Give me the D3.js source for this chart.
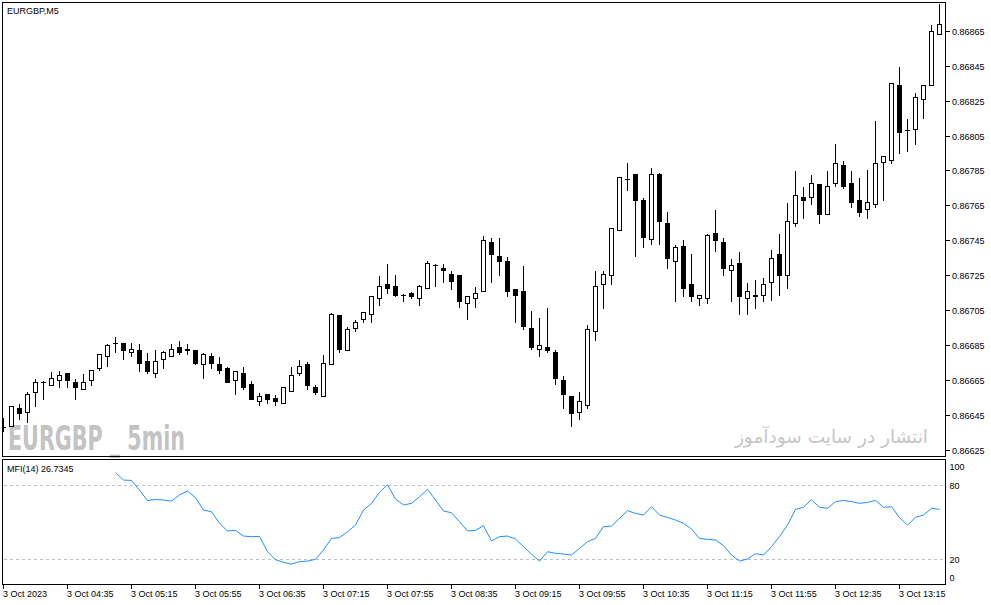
<!DOCTYPE html>
<html><head><meta charset="utf-8">
<script src="https://cdn.jsdelivr.net/npm/d3@7"></script>
<style>html,body{margin:0;padding:0;background:#fff;overflow:hidden}</style>
</head><body>
<svg id="c" width="991" height="605"></svg>
<script>
const symbolTitle = "EURGBP,M5";
const watermarkText = "EURGBP _ 5min";
const persianText = "انتشار در سایت سودآموز";
const mfiLabel = "MFI(14) 26.7345";

const openP = [0.86638,0.86639,0.86649,0.86647,0.86658,0.86664,0.86662,0.86665,0.86669,0.86664,
0.86660,0.86665,0.86672,0.86679,0.86686,0.86686,0.86681,0.86682,0.86676,0.86669,
0.86677,0.86679,0.86684,0.86682,0.86682,0.86674,0.86679,0.86674,0.86672,0.86665,
0.86669,0.86663,0.86653,0.86657,0.86655,0.86652,0.86659,0.86669,0.86674,0.86661,
0.86656,0.86674,0.86702,0.86682,0.86695,0.86700,0.86703,0.86712,0.86720,0.86719,
0.86714,0.86715,0.86712,0.86718,0.86731,0.86729,0.86726,0.86725,0.86709,0.86712,
0.86716,0.86744,0.86736,0.86733,0.86717,0.86716,0.86695,0.86683,0.86684,0.86681,
0.86665,0.86656,0.86647,0.86651,0.86693,0.86720,0.86725,0.86751,0.86780,0.86783,
0.86768,0.86746,0.86783,0.86755,0.86733,0.86742,0.86720,0.86712,0.86712,0.86749,
0.86744,0.86728,0.86732,0.86712,0.86714,0.86714,0.86721,0.86737,0.86725,0.86755,
0.86770,0.86770,0.86777,0.86760,0.86778,0.86788,0.86778,0.86768,0.86763,0.86766,
0.86790,0.86791,0.86834,0.86808,0.86809,0.86826,0.86834,0.86863];
const highP = [0.86644,0.86651,0.86652,0.86659,0.86666,0.86665,0.86670,0.86671,0.86669,0.86666,
0.86669,0.86671,0.86680,0.86686,0.86690,0.86686,0.86687,0.86686,0.86681,0.86683,
0.86682,0.86686,0.86688,0.86686,0.86682,0.86681,0.86681,0.86679,0.86673,0.86670,
0.86673,0.86665,0.86658,0.86657,0.86657,0.86661,0.86673,0.86677,0.86676,0.86663,
0.86680,0.86704,0.86702,0.86696,0.86700,0.86704,0.86713,0.86725,0.86732,0.86726,
0.86715,0.86716,0.86720,0.86734,0.86732,0.86732,0.86728,0.86726,0.86713,0.86719,
0.86748,0.86747,0.86747,0.86736,0.86718,0.86731,0.86705,0.86701,0.86707,0.86683,
0.86668,0.86656,0.86659,0.86697,0.86728,0.86728,0.86752,0.86782,0.86790,0.86783,
0.86770,0.86787,0.86784,0.86762,0.86743,0.86746,0.86738,0.86714,0.86749,0.86763,
0.86747,0.86735,0.86739,0.86721,0.86723,0.86724,0.86740,0.86749,0.86767,0.86785,
0.86776,0.86783,0.86777,0.86785,0.86801,0.86791,0.86785,0.86781,0.86786,0.86814,
0.86794,0.86835,0.86845,0.86815,0.86830,0.86834,0.86869,0.86881];
const lowP = [0.86636,0.86639,0.86643,0.86641,0.86650,0.86654,0.86662,0.86661,0.86661,0.86654,
0.86660,0.86662,0.86671,0.86673,0.86681,0.86677,0.86679,0.86670,0.86669,0.86667,
0.86672,0.86679,0.86680,0.86680,0.86674,0.86666,0.86672,0.86669,0.86664,0.86657,
0.86660,0.86654,0.86651,0.86652,0.86651,0.86652,0.86659,0.86668,0.86660,0.86657,
0.86656,0.86674,0.86681,0.86682,0.86693,0.86698,0.86698,0.86708,0.86715,0.86713,
0.86710,0.86712,0.86708,0.86718,0.86719,0.86721,0.86717,0.86707,0.86700,0.86707,
0.86716,0.86721,0.86725,0.86713,0.86698,0.86694,0.86683,0.86679,0.86681,0.86663,
0.86649,0.86639,0.86643,0.86649,0.86688,0.86706,0.86720,0.86751,0.86774,0.86736,
0.86741,0.86743,0.86743,0.86729,0.86710,0.86713,0.86710,0.86708,0.86709,0.86739,
0.86725,0.86710,0.86703,0.86703,0.86706,0.86710,0.86711,0.86714,0.86718,0.86753,
0.86758,0.86766,0.86755,0.86760,0.86776,0.86775,0.86764,0.86759,0.86758,0.86764,
0.86768,0.86789,0.86795,0.86796,0.86800,0.86815,0.86834,0.86863];
const closeP = [0.86638,0.86650,0.86646,0.86657,0.86664,0.86664,0.86666,0.86668,0.86665,0.86661,
0.86664,0.86671,0.86680,0.86685,0.86686,0.86682,0.86683,0.86675,0.86670,0.86676,
0.86681,0.86683,0.86681,0.86683,0.86675,0.86680,0.86675,0.86671,0.86664,0.86670,
0.86661,0.86654,0.86656,0.86654,0.86653,0.86661,0.86668,0.86673,0.86662,0.86658,
0.86675,0.86703,0.86683,0.86694,0.86698,0.86704,0.86713,0.86719,0.86718,0.86714,
0.86714,0.86713,0.86719,0.86732,0.86731,0.86728,0.86722,0.86710,0.86713,0.86715,
0.86745,0.86737,0.86733,0.86716,0.86714,0.86696,0.86684,0.86685,0.86682,0.86666,
0.86657,0.86646,0.86653,0.86694,0.86719,0.86726,0.86752,0.86781,0.86780,0.86768,
0.86747,0.86783,0.86756,0.86735,0.86741,0.86718,0.86713,0.86714,0.86748,0.86745,
0.86729,0.86731,0.86713,0.86716,0.86713,0.86720,0.86735,0.86725,0.86756,0.86771,
0.86768,0.86778,0.86760,0.86776,0.86789,0.86776,0.86767,0.86761,0.86767,0.86789,
0.86793,0.86835,0.86807,0.86808,0.86827,0.86834,0.86865,0.86869];

const mfiValues = [null,null,null,null,null,null,null,null,null,null,null,null,null,null,
90.5,84.3,84.0,76.2,67.6,68.6,68.1,67.3,72.2,75.4,
70.0,60.0,58.6,49.2,43.0,43.5,38.9,38.4,38.6,26.2,
19.7,17.6,16.2,18.1,18.6,20.0,27.6,37.0,37.6,42.4,
47.8,60.0,65.4,74.3,80.5,68.9,64.1,65.4,70.8,76.8,
68.1,59.2,57.8,50.5,43.0,43.5,47.3,34.9,38.4,38.9,
36.5,30.3,24.1,18.6,26.2,24.9,24.3,23.5,28.9,34.3,
37.0,46.5,47.0,53.2,59.5,57.3,55.9,62.7,55.9,54.0,
51.9,49.2,44.6,37.0,36.2,35.7,31.1,23.5,18.6,20.3,
24.6,23.5,30.3,38.4,47.8,60.5,62.2,68.6,62.2,61.4,
66.8,67.8,66.8,65.4,66.2,67.8,62.2,62.7,53.8,47.8,
54.0,55.9,61.4,60.5];

const priceTicks = [0.86625,0.86645,0.86665,0.86685,0.86705,0.86725,0.86745,0.86765,0.86785,0.86805,0.86825,0.86845,0.86865];
const mfiTicks = [100,80,20,0];
const mfiLevels = [80,20];
const timeLabels = ["3 Oct 2023","3 Oct 04:35","3 Oct 05:15","3 Oct 05:55","3 Oct 06:35","3 Oct 07:15","3 Oct 07:55","3 Oct 08:35","3 Oct 09:15","3 Oct 09:55","3 Oct 10:35","3 Oct 11:15","3 Oct 11:55","3 Oct 12:35","3 Oct 13:15"];
const timeLabelBars = [0,8,16,24,32,40,48,56,64,72,80,88,96,104,112];

const svg = d3.select("#c");
const font = "'Liberation Sans', Arial, sans-serif";
const L = 2.5, R = 945.5, T = 2.5, B = 456.5, IT = 459.5, IB = 584.5;
const n = openP.length;
const x = d3.scaleLinear().domain([0, n - 1]).range([3.5, 939.5]);
const y = d3.scaleLinear().domain([0.86625, 0.86865]).range([450, 30.7]);
const ym = d3.scaleLinear().domain([0, 100]).range([584, 460.7]);
const py = v => Math.round(y(v)) + 0.5;

const defs = svg.append("defs");
defs.append("clipPath").attr("id","cm").append("rect").attr("x",L+0.5).attr("y",T+0.5).attr("width",R-L-1).attr("height",B-T-1);
defs.append("clipPath").attr("id","ci").append("rect").attr("x",L+0.5).attr("y",IT+0.5).attr("width",R-L-1).attr("height",IB-IT-1);

// watermark texts
svg.append("text").attr("x",8).attr("y",449.5).text(watermarkText)
  .attr("font-family","'DejaVu Sans Condensed','DejaVu Sans',sans-serif").attr("font-weight","bold")
  .attr("font-size",33).attr("fill","#c3c3c3").attr("textLength",177).attr("lengthAdjust","spacingAndGlyphs");
svg.append("text").attr("x",928).attr("y",443).attr("text-anchor","end").text(persianText)
  .attr("font-family","'DejaVu Sans',sans-serif").attr("font-size",18.5).attr("fill","#c6c6c6");

// candles
const bars = d3.range(n).map(i => ({i, o: openP[i], h: highP[i], l: lowP[i], c: closeP[i]}));
const gC = svg.append("g").attr("clip-path","url(#cm)").attr("shape-rendering","crispEdges");
const cg = gC.selectAll("g.c").data(bars).join("g").attr("class","c");
cg.append("line").attr("x1",d=>x(d.i)).attr("x2",d=>x(d.i)).attr("y1",d=>py(d.h)).attr("y2",d=>py(d.l)).attr("stroke","#000");
cg.each(function(d){
  const g = d3.select(this);
  const top = py(Math.max(d.o,d.c)), bot = py(Math.min(d.o,d.c));
  if (bot - top < 1) {
    g.append("line").attr("x1",x(d.i)-2.5).attr("x2",x(d.i)+2.5).attr("y1",top).attr("y2",top).attr("stroke","#000");
  } else {
    g.append("rect").attr("x",x(d.i)-2).attr("y",top).attr("width",4).attr("height",bot-top)
      .attr("fill", d.c >= d.o ? "#fff" : "#000").attr("stroke","#000");
  }
});

// frames
svg.append("rect").attr("x",L).attr("y",T).attr("width",R-L).attr("height",B-T).attr("fill","none").attr("stroke","#000").attr("shape-rendering","crispEdges");
svg.append("rect").attr("x",L).attr("y",IT).attr("width",R-L).attr("height",IB-IT).attr("fill","none").attr("stroke","#000").attr("shape-rendering","crispEdges");

// price axis
const pa = svg.append("g");
pa.selectAll("line").data(priceTicks).join("line").attr("x1",R).attr("x2",R+4).attr("y1",d=>py(d)).attr("y2",d=>py(d)).attr("stroke","#000").attr("shape-rendering","crispEdges");
pa.selectAll("text").data(priceTicks).join("text").attr("x",R+6.5).attr("y",d=>py(d)+3.3).text(d=>d.toFixed(5))
  .attr("font-family",font).attr("font-size",9).attr("fill","#000");

// title
svg.append("text").attr("x",7).attr("y",14).text(symbolTitle).attr("font-family",font).attr("font-size",9).attr("fill","#000");

// MFI panel
const gI = svg.append("g").attr("clip-path","url(#ci)");
gI.selectAll("line.lv").data(mfiLevels).join("line").attr("class","lv").attr("x1",L+1.5).attr("x2",R-1)
  .attr("y1",d=>Math.round(ym(d))+0.5).attr("y2",d=>Math.round(ym(d))+0.5).attr("stroke","#c0c0c0").attr("stroke-dasharray","3,3").attr("shape-rendering","crispEdges");
const line = d3.line().defined(d=>d.v!=null).x(d=>x(d.i)).y(d=>ym(d.v));
gI.append("path").datum(mfiValues.map((v,i)=>({i,v}))).attr("d",line).attr("fill","none").attr("stroke","#1e90ff").attr("stroke-width",1);
svg.append("text").attr("x",7).attr("y",472).text(mfiLabel).attr("font-family",font).attr("font-size",9).attr("fill","#000");
svg.selectAll("text.mt").data(mfiTicks).join("text").attr("class","mt").attr("x",R+4)
  .attr("y",d=>Math.min(Math.max(ym(d),IT+7),IB-6.5)+3.3).text(d=>d)
  .attr("font-family",font).attr("font-size",9).attr("fill","#000");

// time axis
const ta = svg.append("g");
ta.selectAll("line").data(timeLabelBars).join("line").attr("x1",d=>x(d)-0.5).attr("x2",d=>x(d)-0.5).attr("y1",IB).attr("y2",IB+4).attr("stroke","#000").attr("shape-rendering","crispEdges");
ta.selectAll("text").data(timeLabels).join("text").attr("x",(d,k)=>x(timeLabelBars[k])-0.5).attr("y",596.5).text(d=>d)
  .attr("font-family",font).attr("font-size",9).attr("fill","#000");
</script>
</body></html>
